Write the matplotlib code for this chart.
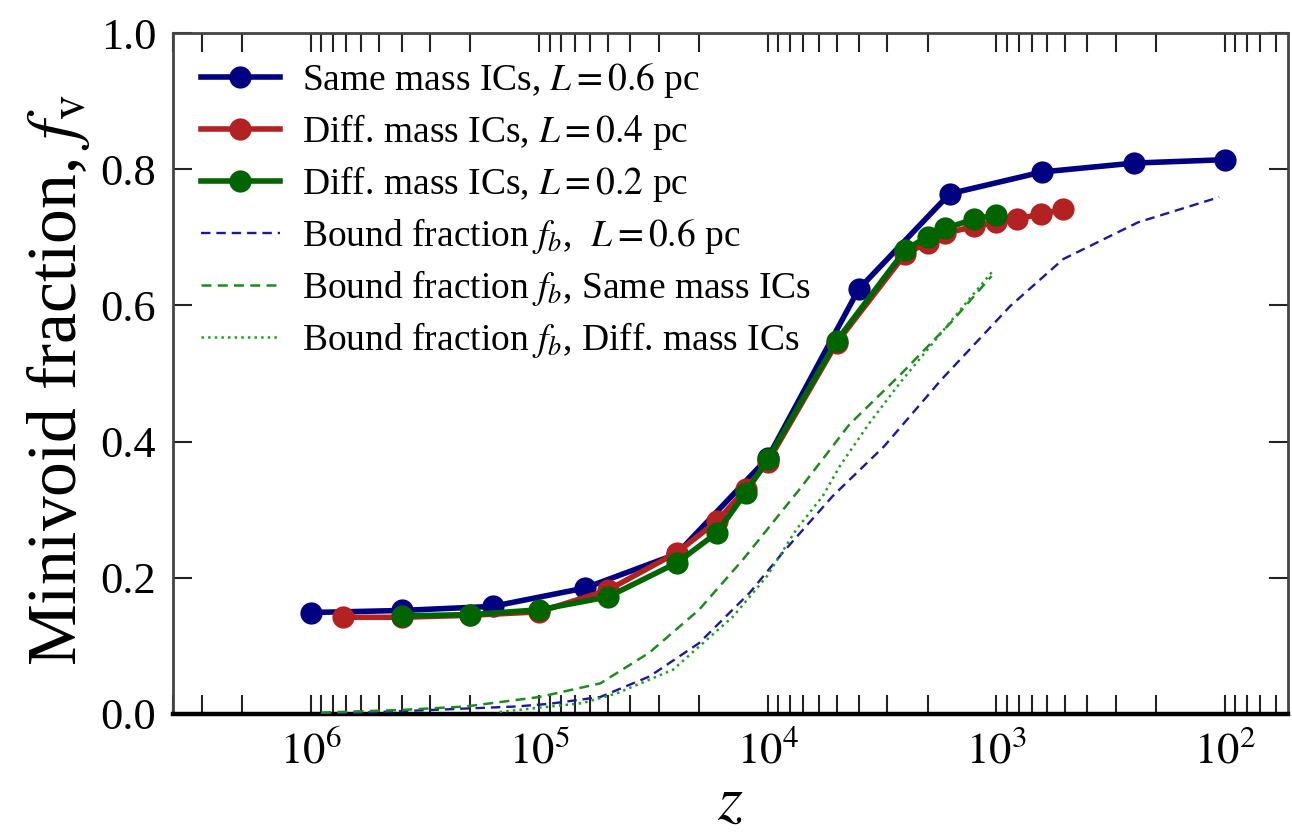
import matplotlib
matplotlib.use("Agg")
import matplotlib.pyplot as plt
from matplotlib.ticker import LogLocator, NullFormatter, FixedLocator

plt.rcParams['font.family'] = 'serif'
plt.rcParams['font.serif'] = ['Liberation Serif', 'DejaVu Serif']
plt.rcParams['mathtext.fontset'] = 'stix'

# Minivoid fraction from the simulations
z_same = [1.0e6, 4.0e5, 1.6e5, 6.3e4, 2.5e4, 1.0e4, 4.0e3, 1.6e3, 6.3e2, 2.5e2, 1.0e2]
f_same = [0.149, 0.152, 0.158, 0.185, 0.235, 0.376, 0.624, 0.764, 0.796, 0.809, 0.814]

z_diff04 = [7.2e5, 4.0e5, 2.0e5, 1.0e5, 5.0e4, 2.5e4, 1.67e4, 1.25e4, 1.0e4, 5.0e3,
            2.5e3, 2.0e3, 1.67e3, 1.25e3, 1.0e3, 8.1e2, 6.4e2, 5.1e2]
f_diff04 = [0.142, 0.142, 0.145, 0.150, 0.182, 0.237, 0.283, 0.330, 0.370, 0.545,
            0.676, 0.692, 0.706, 0.716, 0.722, 0.727, 0.734, 0.741]

z_diff02 = [4.0e5, 2.0e5, 1.0e5, 5.0e4, 2.5e4, 1.67e4, 1.25e4, 1.0e4, 5.0e3,
            2.5e3, 2.0e3, 1.67e3, 1.25e3, 1.0e3]
f_diff02 = [0.144, 0.146, 0.153, 0.172, 0.222, 0.266, 0.325, 0.374, 0.548,
            0.682, 0.701, 0.713, 0.727, 0.733]

# Bound fractions
zb_06 = [8.9e5, 4.1e5, 1.26e5, 9.0e4, 5.4e4, 3.3e4, 2.0e4, 1.2e4, 8.6e3, 5.2e3,
         3.1e3, 1.74e3, 8.7e2, 5.1e2, 2.4e2, 1.06e2]
fb_06 = [0.0, 0.004, 0.011, 0.015, 0.025, 0.055, 0.104, 0.178, 0.237, 0.320,
         0.393, 0.491, 0.599, 0.668, 0.722, 0.759]

zb_same = [9.0e5, 3.95e5, 2.1e5, 9.95e4, 5.4e4, 3.3e4, 2.0e4, 1.29e4, 7.3e3, 4.4e3,
           2.6e3, 1.58e3, 1.05e3]
fb_same = [0.002, 0.006, 0.011, 0.025, 0.045, 0.090, 0.153, 0.226, 0.329, 0.425,
           0.500, 0.575, 0.643]

zb_diff = [1.49e5, 6.46e4, 4.6e4, 2.6e4, 1.42e4, 1.01e4, 7.5e3, 5.75e3, 4.84e3,
           3.58e3, 2.63e3, 1.51e3, 1.04e3]
fb_diff = [0.003, 0.016, 0.030, 0.065, 0.143, 0.202, 0.271, 0.320, 0.364,
           0.428, 0.487, 0.585, 0.650]

labels = [r'Same mass ICs, $L = 0.6$ pc',
          r'Diff. mass ICs, $L = 0.4$ pc',
          r'Diff. mass ICs, $L = 0.2$ pc',
          r'Bound fraction $f_b$,  $L = 0.6$ pc',
          r'Bound fraction $f_b$, Same mass ICs',
          r'Bound fraction $f_b$, Diff. mass ICs']

navy = '#000080'
red = '#b22222'
green = '#006400'

fig = plt.figure(figsize=(12.92, 8.34), dpi=100)
ax = fig.add_axes([0.1339, 0.1439, 0.8630, 0.8165])

ms = 16
lw = 4.0
ax.plot(z_same, f_same, '-o', color=navy, lw=lw, ms=ms, mew=0, label=labels[0], zorder=5)
ax.plot(z_diff04, f_diff04, '-o', color=red, lw=lw, ms=ms, mew=0, label=labels[1], zorder=6)
ax.plot(z_diff02, f_diff02, '-o', color=green, lw=lw, ms=ms, mew=0, label=labels[2], zorder=7)
ax.plot(zb_06, fb_06, '--', color='#1a1a9a', lw=1.7, dashes=(4, 2.5),
        label=labels[3], zorder=3)
ax.plot(zb_same, fb_same, '--', color='#208a20', lw=1.8, dashes=(4, 2.5),
        label=labels[4], zorder=3)
ax.plot(zb_diff, fb_diff, ':', color='#20a020', lw=1.8, label=labels[5], zorder=3)

ax.set_xscale('log')
ax.set_xlim(4.0e6, 53)
ax.set_ylim(0.0, 1.0)
ax.xaxis.set_major_locator(FixedLocator([1e6, 1e5, 1e4, 1e3, 1e2]))
ax.xaxis.set_minor_locator(LogLocator(base=10, subs=range(2, 10)))
ax.xaxis.set_minor_formatter(NullFormatter())
ax.set_xticklabels([r'$10^6$', r'$10^5$', r'$10^4$', r'$10^3$', r'$10^2$'])
ax.set_yticks([0.0, 0.2, 0.4, 0.6, 0.8, 1.0])
ax.set_yticklabels(['0.0', '0.2', '0.4', '0.6', '0.8', '1.0'])

ax.tick_params(axis='both', which='both', direction='in', top=True, right=True,
               colors='#222222', width=1.5)
ax.tick_params(axis='both', which='major', length=14, pad=12, labelsize=32)
ax.tick_params(axis='x', which='minor', length=14)
ax.tick_params(axis='y', which='minor', left=False, right=False)
for lab in ax.get_xticklabels() + ax.get_yticklabels():
    lab.set_color('black')

for side in ['left', 'top', 'right']:
    ax.spines[side].set_linewidth(2.0)
    ax.spines[side].set_color('#444444')
ax.spines['bottom'].set_linewidth(3.2)
ax.spines['bottom'].set_color('black')

ax.set_xlabel(r'$z$', fontsize=46, labelpad=2)
ax.set_ylabel(r'Minivoid fraction, $f_{\rm v}$', fontsize=50)
ax.yaxis.set_label_coords(-0.073, 0.49)

ax.legend(loc='upper left', frameon=False, fontsize=27, handlelength=2.1,
          handletextpad=0.6, labelspacing=0.32, borderpad=0.4, borderaxespad=0.35,
          numpoints=1)

fig.savefig('out.png', dpi=100)
